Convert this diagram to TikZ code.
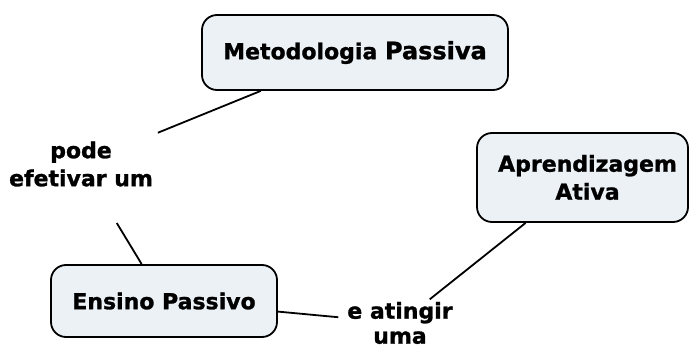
\documentclass[tikz,border=0pt]{standalone}
\usepackage{fontspec}
\setmainfont{DejaVu Sans}[BoldFeatures={FakeBold=1.2}]
\definecolor{boxfill}{HTML}{EBF1F5}
\begin{document}
\begin{tikzpicture}[x=1pt,y=-1pt,
  concept/.style={draw=black, line width=1.8pt, rounded corners=15pt, fill=boxfill,
    inner sep=0pt, align=center, font=\bfseries\fontsize{22}{28}\selectfont},
  linklabel/.style={inner sep=0pt, align=center, font=\bfseries\fontsize{22}{28}\selectfont},
  link/.style={line width=1.8pt, draw=black}]
\useasboundingbox (0,0) rectangle (690,350);
\node[concept, minimum width=306pt, minimum height=75pt] (met) at (355,52.5)
  {Metodologia {\fontsize{24}{28}\selectfont Passiva}};
\node[concept, minimum width=226pt, minimum height=72pt] (ens) at (164,301) {Ensino Passivo};
\node[concept, minimum width=211pt, minimum height=89pt] (apr) at (582.5,177.5) {\hspace{10pt}Aprendizagem\\\hspace{10pt}Ativa};
\node[linklabel] (lab1) at (81,164) {pode\\efetivar um};
\node[linklabel, font=\bfseries\fontsize{22}{25}\selectfont] (lab2) at (400,323) {e atingir\\uma};
\draw[link, shorten >=62pt] (ens) -- (lab2.center);
\draw[link, shorten >=83pt] (met) -- (lab1.center);
\draw[link, shorten <=69pt] (lab1.center) -- (ens);
\draw[link, shorten <=38pt] (lab2.center) -- (apr);
\end{tikzpicture}
\end{document}
